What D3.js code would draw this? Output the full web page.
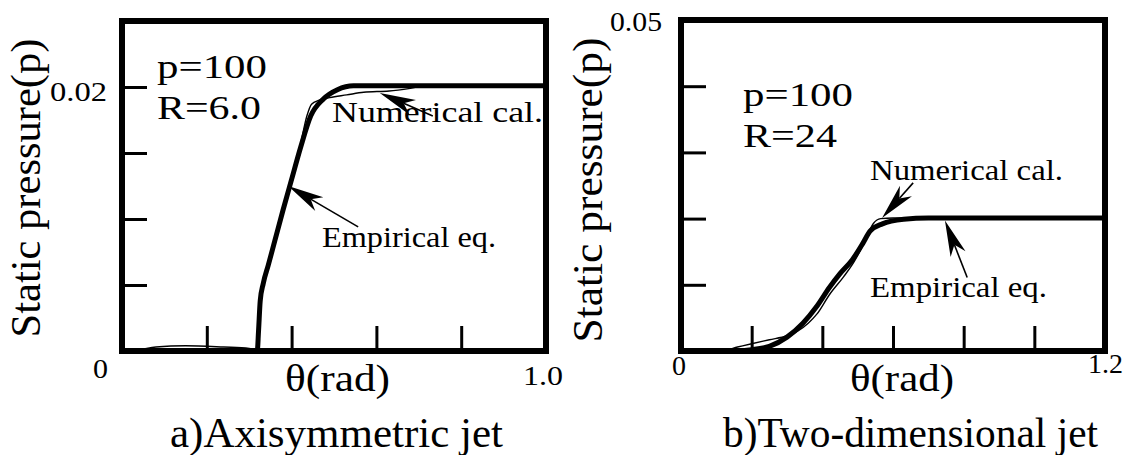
<!DOCTYPE html>
<html>
<head>
<meta charset="utf-8">
<script src="https://cdn.jsdelivr.net/npm/d3@7"></script>
<style>
  html, body { margin: 0; padding: 0; background: #fff; }
  svg { display: block; }
</style>
</head>
<body>
<svg id="chart" width="1132" height="455"></svg>
<script>
// a) Axisymmetric jet, p=100, R=6.0  -- [theta (rad), static pressure]
const axiEmpirical = [
    [0, 0], [0.2, 0], [0.319, 0], [0.322, 0.0015], [0.326, 0.0038], [0.333, 0.0051],
    [0.345, 0.0065], [0.36, 0.0083], [0.38, 0.0107], [0.4, 0.013],
    [0.421, 0.0154], [0.445, 0.0178], [0.475, 0.0191], [0.508, 0.0198],
    [0.546, 0.0201], [0.7, 0.0201], [1.0, 0.0201]
];
const axiNumerical = [
    [0, 0], [0.04, 0.0001], [0.08, 0.0003], [0.15, 0.0004], [0.24, 0.0003],
    [0.3, 0.0002], [0.319, 0.0001], [0.322, 0.0015], [0.326, 0.0038],
    [0.333, 0.0051], [0.345, 0.0065], [0.36, 0.0083], [0.38, 0.0107],
    [0.4, 0.013], [0.42, 0.0155], [0.436, 0.0178], [0.447, 0.0187],
    [0.465, 0.019], [0.49, 0.0192], [0.53, 0.0194], [0.57, 0.0196],
    [0.63, 0.0197], [0.68, 0.0199], [0.72, 0.0201], [1.0, 0.0201]
];
const axiXTicks = [0.2, 0.4, 0.6, 0.8];
const axiYTicks = [0.005, 0.01, 0.015, 0.02];
const axiArrows = [
    { from: [0.733, 0.0178], to: [0.608, 0.01955] },   // Numerical cal.
    { from: [0.557, 0.0094], to: [0.392, 0.0125] }     // Empirical eq.
];

// b) Two-dimensional jet, p=100, R=24
const twoEmpirical = [
    [0, 0], [0.15, 0], [0.2, 0.0002], [0.25, 0.0007], [0.3, 0.0021],
    [0.345, 0.0042], [0.385, 0.0068], [0.42, 0.0096], [0.45, 0.0117],
    [0.485, 0.0138], [0.515, 0.0163], [0.535, 0.0181], [0.57, 0.0192],
    [0.63, 0.0199], [0.7, 0.0201], [1.2, 0.0201]
];
const twoNumerical = [
    [0, 0], [0.12, 0.0001], [0.16, 0.0006], [0.2, 0.0011], [0.25, 0.0017],
    [0.3, 0.0023], [0.33, 0.003], [0.36, 0.0042], [0.385, 0.0056],
    [0.42, 0.0085], [0.46, 0.0112], [0.49, 0.0135], [0.515, 0.016],
    [0.53, 0.0178], [0.545, 0.0193], [0.565, 0.02], [0.6, 0.0201],
    [0.7, 0.0201], [1.2, 0.0201]
];
const twoXTicks = [0.2, 0.4, 0.6, 0.8, 1.0];
const twoYTicks = [0.01, 0.02, 0.03, 0.04];
const twoArrows = [
    { from: [0.657, 0.0254], to: [0.569, 0.0201] },    // Numerical cal.
    { from: [0.81, 0.0111], to: [0.747, 0.0197] }      // Empirical eq.
];

const yTitle = 'Static pressure(p)';
const xTitle = 'θ(rad)';
const numLabel = 'Numerical cal.';
const empLabel = 'Empirical eq.';

const FONT = 'Liberation Serif, Tinos, Times New Roman, serif';

// layout: pixel positions of frames and texts
const PANELS = [
    {
        xDomain: [0, 1.0], yDomain: [0, 0.025],
        xRange: [122, 546], yRange: [351, 21],
        empirical: axiEmpirical, numerical: axiNumerical,
        xTicks: axiXTicks, yTicks: axiYTicks, arrows: axiArrows,
        texts: [
            { t: yTitle, x: 40, y: 188, size: 42, len: 299, rot: true },
            { t: '0.02', x: 50, y: 101, size: 28, len: 57 },
            { t: '0', x: 93, y: 378, size: 28, len: 15 },
            { t: '1.0', x: 523, y: 385, size: 27, len: 40 },
            { t: xTitle, x: 285, y: 391, size: 37, len: 105 },
            { t: 'a)Axisymmetric jet', x: 170, y: 447, size: 42, len: 333 },
            { t: 'p=100', x: 157, y: 78, size: 34, len: 110 },
            { t: 'R=6.0', x: 157, y: 119, size: 34, len: 104 },
            { t: numLabel, x: 332, y: 122, size: 30, len: 211 },
            { t: empLabel, x: 322, y: 247, size: 30, len: 174 }
        ]
    },
    {
        xDomain: [0, 1.2], yDomain: [0, 0.05],
        xRange: [681, 1105], yRange: [351, 20],
        empirical: twoEmpirical, numerical: twoNumerical,
        xTicks: twoXTicks, yTicks: twoYTicks, arrows: twoArrows,
        texts: [
            { t: yTitle, x: 602, y: 190, size: 42, len: 305, rot: true },
            { t: '0.05', x: 610, y: 31, size: 28, len: 52 },
            { t: '0', x: 672, y: 375, size: 28, len: 14 },
            { t: '1.2', x: 1088, y: 373, size: 27, len: 35 },
            { t: xTitle, x: 850, y: 391, size: 37, len: 104 },
            { t: 'b)Two-dimensional jet', x: 723, y: 447, size: 42, len: 375 },
            { t: 'p=100', x: 743, y: 106, size: 34, len: 110 },
            { t: 'R=24', x: 743, y: 147, size: 34, len: 94 },
            { t: numLabel, x: 870, y: 180, size: 30, len: 193 },
            { t: empLabel, x: 870, y: 297, size: 30, len: 177 }
        ]
    }
];

const svg = d3.select('#chart');
svg.append('rect').attr('width', 1132).attr('height', 455).attr('fill', '#fff');

PANELS.forEach(cfg => drawPanel(cfg));

function drawPanel(cfg) {
    const x = d3.scaleLinear().domain(cfg.xDomain).range(cfg.xRange);
    const y = d3.scaleLinear().domain(cfg.yDomain).range(cfg.yRange);
    const g = svg.append('g');

    // inward ticks on bottom and left
    g.append('g')
        .attr('transform', `translate(0,${cfg.yRange[0]})`)
        .call(d3.axisTop(x).tickValues(cfg.xTicks).tickSize(25).tickFormat(''))
        .call(a => a.select('.domain').remove())
        .selectAll('line')
        .attr('stroke', '#000')
        .attr('stroke-width', 3);

    g.append('g')
        .attr('transform', `translate(${cfg.xRange[0]},0)`)
        .call(d3.axisRight(y).tickValues(cfg.yTicks).tickSize(25).tickFormat(''))
        .call(a => a.select('.domain').remove())
        .selectAll('line')
        .attr('stroke', '#000')
        .attr('stroke-width', 3);

    const line = d3.line()
        .x(d => x(d[0]))
        .y(d => y(d[1]))
        .curve(d3.curveMonotoneX);

    g.append('path')
        .datum(cfg.numerical)
        .attr('d', line)
        .attr('fill', 'none')
        .attr('stroke', '#000')
        .attr('stroke-width', 1.4);

    g.append('path')
        .datum(cfg.empirical)
        .attr('d', line)
        .attr('fill', 'none')
        .attr('stroke', '#000')
        .attr('stroke-width', 5)
        .attr('stroke-linejoin', 'round');

    // frame
    g.append('rect')
        .attr('x', cfg.xRange[0])
        .attr('y', cfg.yRange[1])
        .attr('width', cfg.xRange[1] - cfg.xRange[0])
        .attr('height', cfg.yRange[0] - cfg.yRange[1])
        .attr('fill', 'none')
        .attr('stroke', '#000')
        .attr('stroke-width', 6);

    cfg.arrows.forEach(a =>
        drawArrow(g, x(a.from[0]), y(a.from[1]), x(a.to[0]), y(a.to[1])));

    cfg.texts.forEach(d => {
        const t = g.append('text')
            .attr('font-family', FONT)
            .attr('font-size', d.size)
            .attr('fill', '#000')
            .attr('textLength', d.len)
            .attr('lengthAdjust', 'spacingAndGlyphs')
            .text(d.t);
        if (d.rot) {
            t.attr('text-anchor', 'middle')
                .attr('transform', `translate(${d.x},${d.y}) rotate(-90)`);
        } else {
            t.attr('x', d.x).attr('y', d.y);
        }
    });
}

/**
 * Thin leader line with a notched, filled head
 */
function drawArrow(g, x1, y1, x2, y2) {
    const ang = Math.atan2(y2 - y1, x2 - x1);
    const L = 36, W = 8, N = 26;
    g.append('line')
        .attr('x1', x1).attr('y1', y1)
        .attr('x2', x2 - N * Math.cos(ang))
        .attr('y2', y2 - N * Math.sin(ang))
        .attr('stroke', '#000')
        .attr('stroke-width', 1.6);
    g.append('path')
        .attr('d', `M0,0L${-L},${-W}L${-N},0L${-L},${W}Z`)
        .attr('transform', `translate(${x2},${y2}) rotate(${ang * 180 / Math.PI})`)
        .attr('fill', '#000');
}
</script>
</body>
</html>
